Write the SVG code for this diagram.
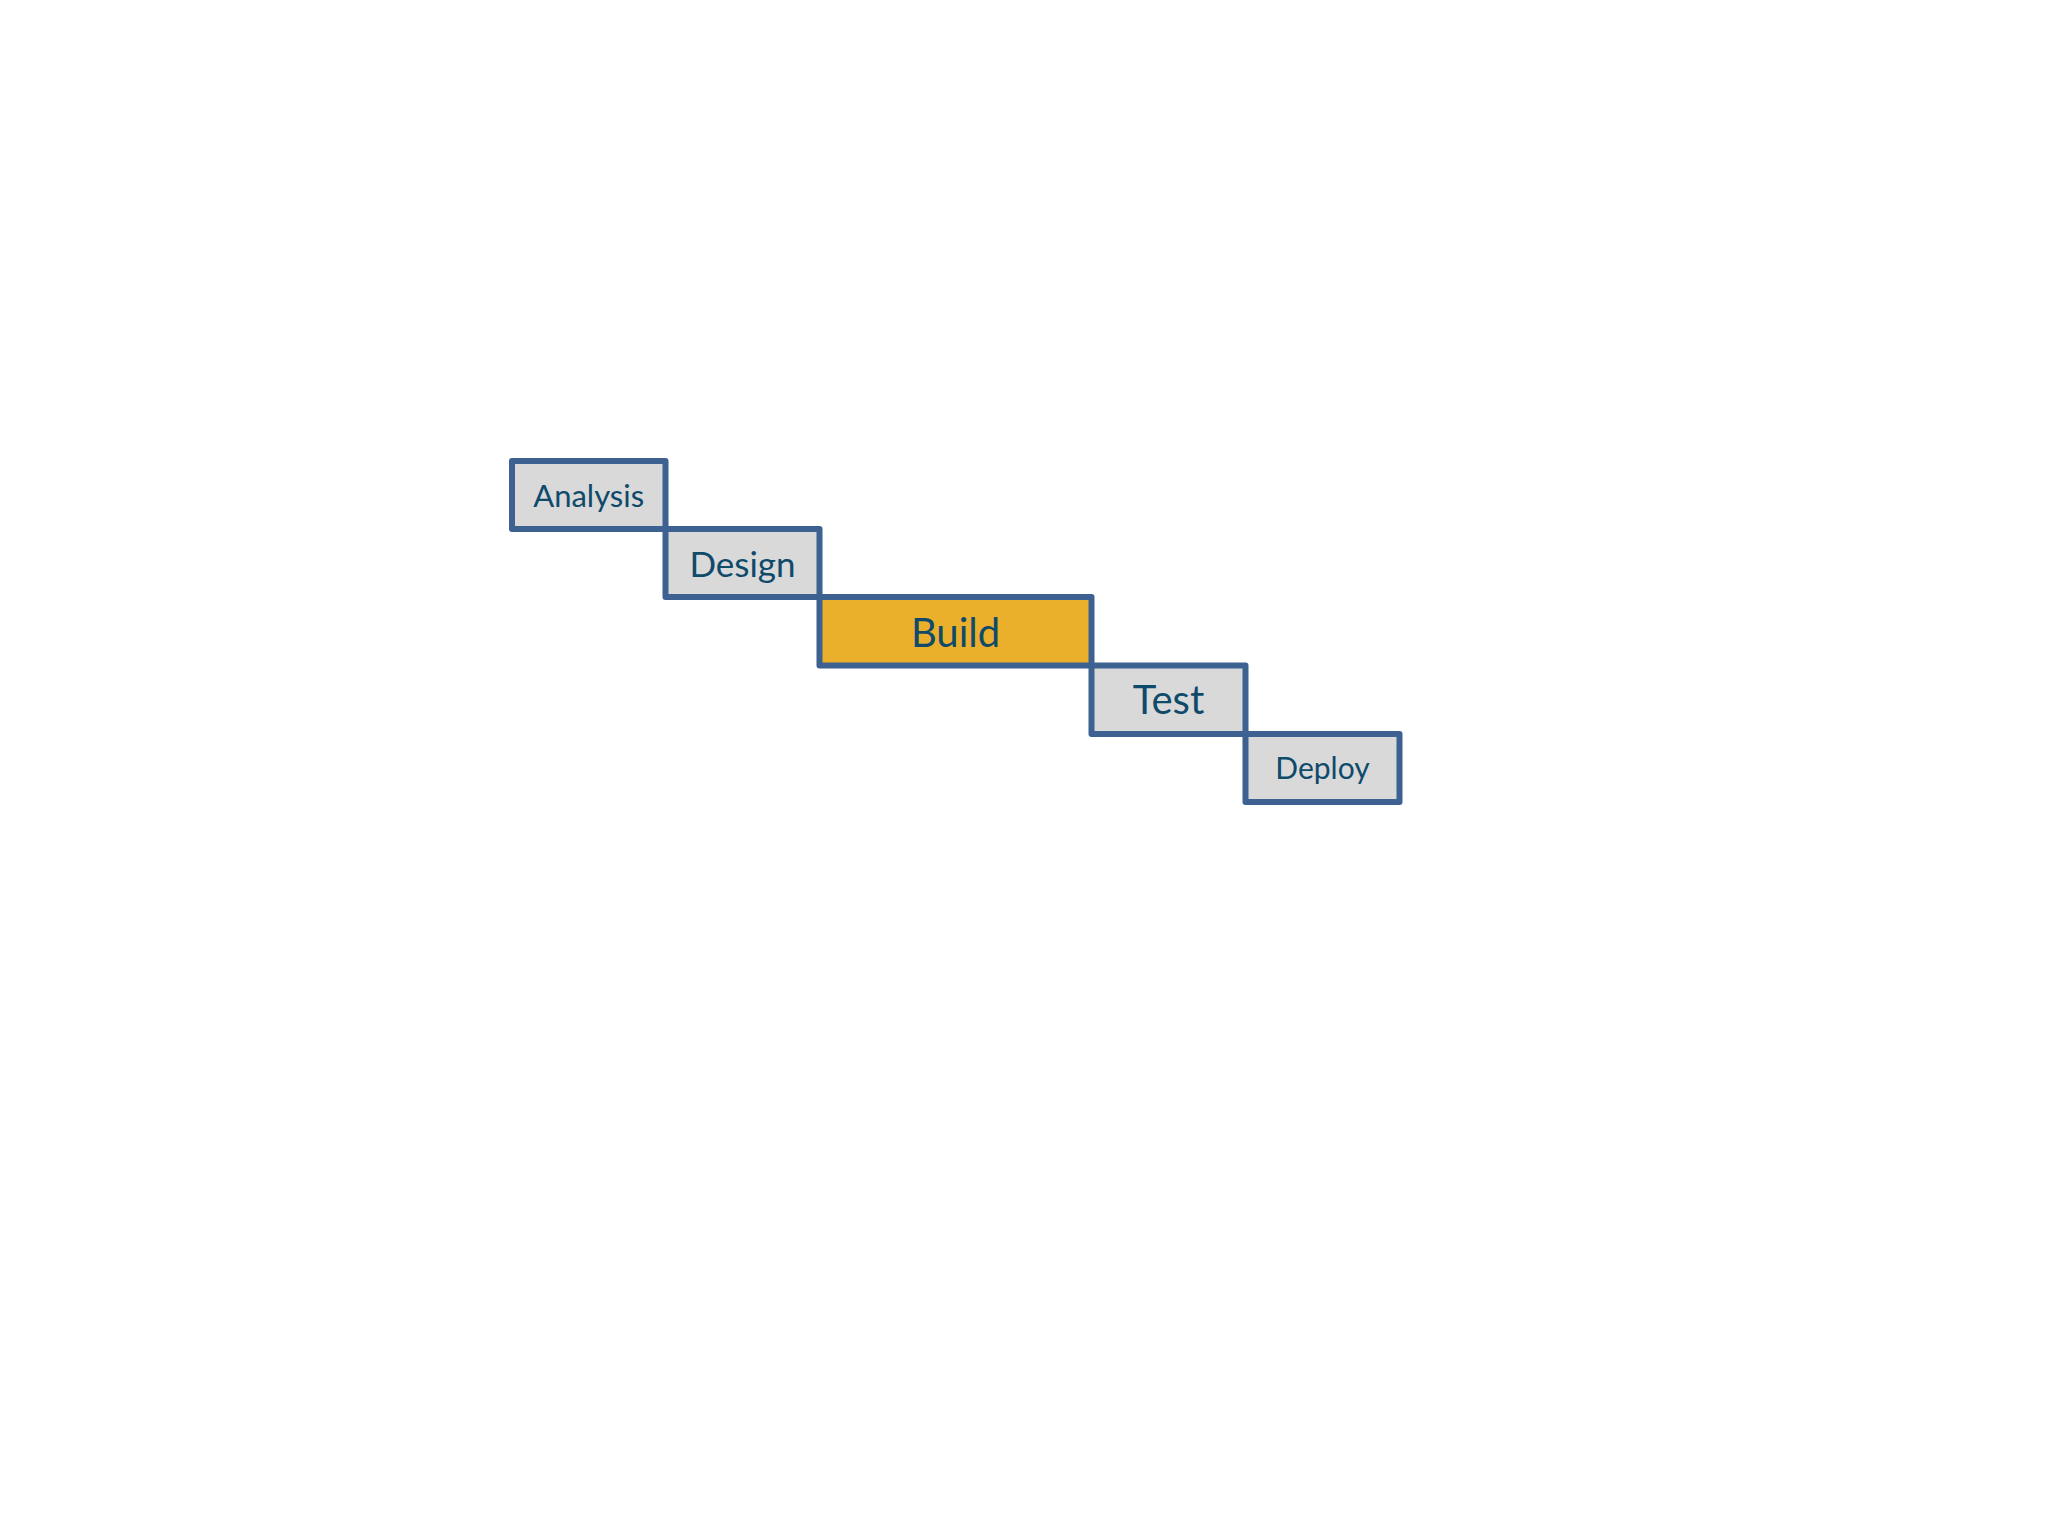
<svg xmlns="http://www.w3.org/2000/svg" width="2048" height="1536" viewBox="0 0 2048 1536">
  <style>
    .box { fill: #d9d9d9; stroke: #3d6190; stroke-width: 6; stroke-linejoin: round; }
    .hot { fill: #ebb02b; }
    .lbl { font-family: Lato, "Open Sans", "Liberation Sans", sans-serif; fill: #0f4a6b; text-anchor: middle; }
  </style>
  <rect x="0" y="0" width="2048" height="1536" fill="#ffffff"/>
  <g id="connectors"></g>
  <g id="analysis">
    <rect class="box" x="512" y="461" width="153.5" height="68"/>
    <text class="lbl" x="588.7" y="506.7" font-size="31">Analysis</text>
  </g>
  <g id="design">
    <rect class="box" x="665.5" y="529" width="154" height="68"/>
    <text class="lbl" x="742.5" y="576.7" font-size="35">Design</text>
  </g>
  <g id="build">
    <rect class="box hot" x="819.5" y="597" width="272" height="68.5"/>
    <text class="lbl" x="955.5" y="646.7" font-size="40">Build</text>
  </g>
  <g id="test">
    <rect class="box" x="1091.5" y="665.5" width="154" height="68.5"/>
    <text class="lbl" x="1168.5" y="714" font-size="40">Test</text>
  </g>
  <g id="deploy">
    <rect class="box" x="1245.5" y="734" width="154" height="68"/>
    <text class="lbl" x="1322.5" y="778.5" font-size="30">Deploy</text>
  </g>
</svg>
